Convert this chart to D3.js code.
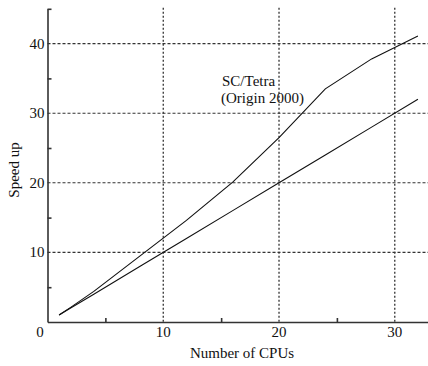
<!DOCTYPE html>
<html>
<head>
<meta charset="utf-8">
<script src="https://cdn.jsdelivr.net/npm/d3@7"></script>
<style>
  body { margin: 0; background: #fff; }
  svg { display: block; }
  text { font-family: "Liberation Serif", "DejaVu Serif", serif; }
</style>
</head>
<body>
<div id="chart"></div>
<script>
// data
const cpus = [1, 2, 4, 8, 12, 16, 20, 24, 28, 32];
const scTetra = [1, 2.1, 4.4, 9.5, 14.6, 20.1, 26.5, 33.5, 37.8, 41.1];
const ideal = [1, 2, 4, 8, 12, 16, 20, 24, 28, 32];
const xMajor = [10, 20, 30];
const xMinor = [5, 15, 25];
const yMajor = [10, 20, 30, 40];
const yMinor = [5, 15, 25, 35, 45];

const width = 428, height = 366;
const axisColor = "#333";
const serif = "Liberation Serif, DejaVu Serif, serif";

const svg = d3.select("#chart").append("svg")
  .attr("width", width)
  .attr("height", height)
  .attr("font-family", serif);

const x = d3.scaleLinear().domain([0, 33]).range([47.5, 429.5]);
const y = d3.scaleLinear().domain([0, 45]).range([322, 8.8]);

// grid
svg.append("g")
  .selectAll("line")
  .data(yMajor)
  .enter().append("line")
    .attr("x1", x(0))
    .attr("x2", width)
    .attr("y1", d => y(d))
    .attr("y2", d => y(d))
    .style("stroke", axisColor)
    .style("stroke-width", 1.1)
    .style("stroke-dasharray", "3,2");

svg.append("g")
  .selectAll("line")
  .data(xMajor)
  .enter().append("line")
    .attr("x1", d => x(d))
    .attr("x2", d => x(d))
    .attr("y1", y(45) - 1)
    .attr("y2", y(0))
    .style("stroke", axisColor)
    .style("stroke-width", 1.3)
    .style("stroke-dasharray", "2,2");

// axes
const xAxis = svg.append("g")
  .attr("transform", `translate(0,${y(0)})`)
  .call(d3.axisBottom(x).tickValues(xMinor).tickSize(-4).tickSizeOuter(0).tickFormat(""));
const yAxis = svg.append("g")
  .attr("transform", `translate(${x(0)},0)`)
  .call(d3.axisLeft(y).tickValues(yMinor).tickSize(-4).tickSizeOuter(0).tickFormat(""));
[xAxis, yAxis].forEach(a => {
  a.selectAll("path, line").style("stroke", axisColor).style("stroke-width", 1.6);
});

const label = (sel) => sel
  .style("font-family", serif)
  .style("font-size", "15px")
  .style("fill", "#111");

// tick labels
svg.append("g")
  .selectAll("text")
  .data(xMajor)
  .enter().append("text")
    .attr("x", d => x(d))
    .attr("y", 337)
    .attr("text-anchor", "middle")
    .call(label)
    .text(d => d);

svg.append("g")
  .selectAll("text")
  .data(yMajor)
  .enter().append("text")
    .attr("x", 44.5)
    .attr("y", d => y(d) + 5)
    .attr("text-anchor", "end")
    .call(label)
    .text(d => d);

svg.append("text")
  .attr("x", 40)
  .attr("y", 337)
  .attr("text-anchor", "middle")
  .call(label)
  .text("0");

// axis titles
svg.append("text")
  .attr("x", 242)
  .attr("y", 358)
  .attr("text-anchor", "middle")
  .call(label)
  .text("Number of CPUs");

svg.append("text")
  .attr("transform", "translate(19,170) rotate(-90)")
  .attr("text-anchor", "middle")
  .call(label)
  .text("Speed up");

// series
const line = d3.line()
  .x(d => x(d[0]))
  .y(d => y(d[1]));

[scTetra, ideal].forEach(vals => {
  svg.append("path")
    .datum(cpus.map((c, i) => [c, vals[i]]))
    .attr("d", line)
    .style("fill", "none")
    .style("stroke", "#111")
    .style("stroke-width", 1.1);
});

// annotation
svg.append("text")
  .attr("x", 222)
  .attr("y", 86)
  .call(label)
  .text("SC/Tetra");
svg.append("text")
  .attr("x", 221)
  .attr("y", 103)
  .call(label)
  .text("(Origin 2000)");
</script>
</body>
</html>
